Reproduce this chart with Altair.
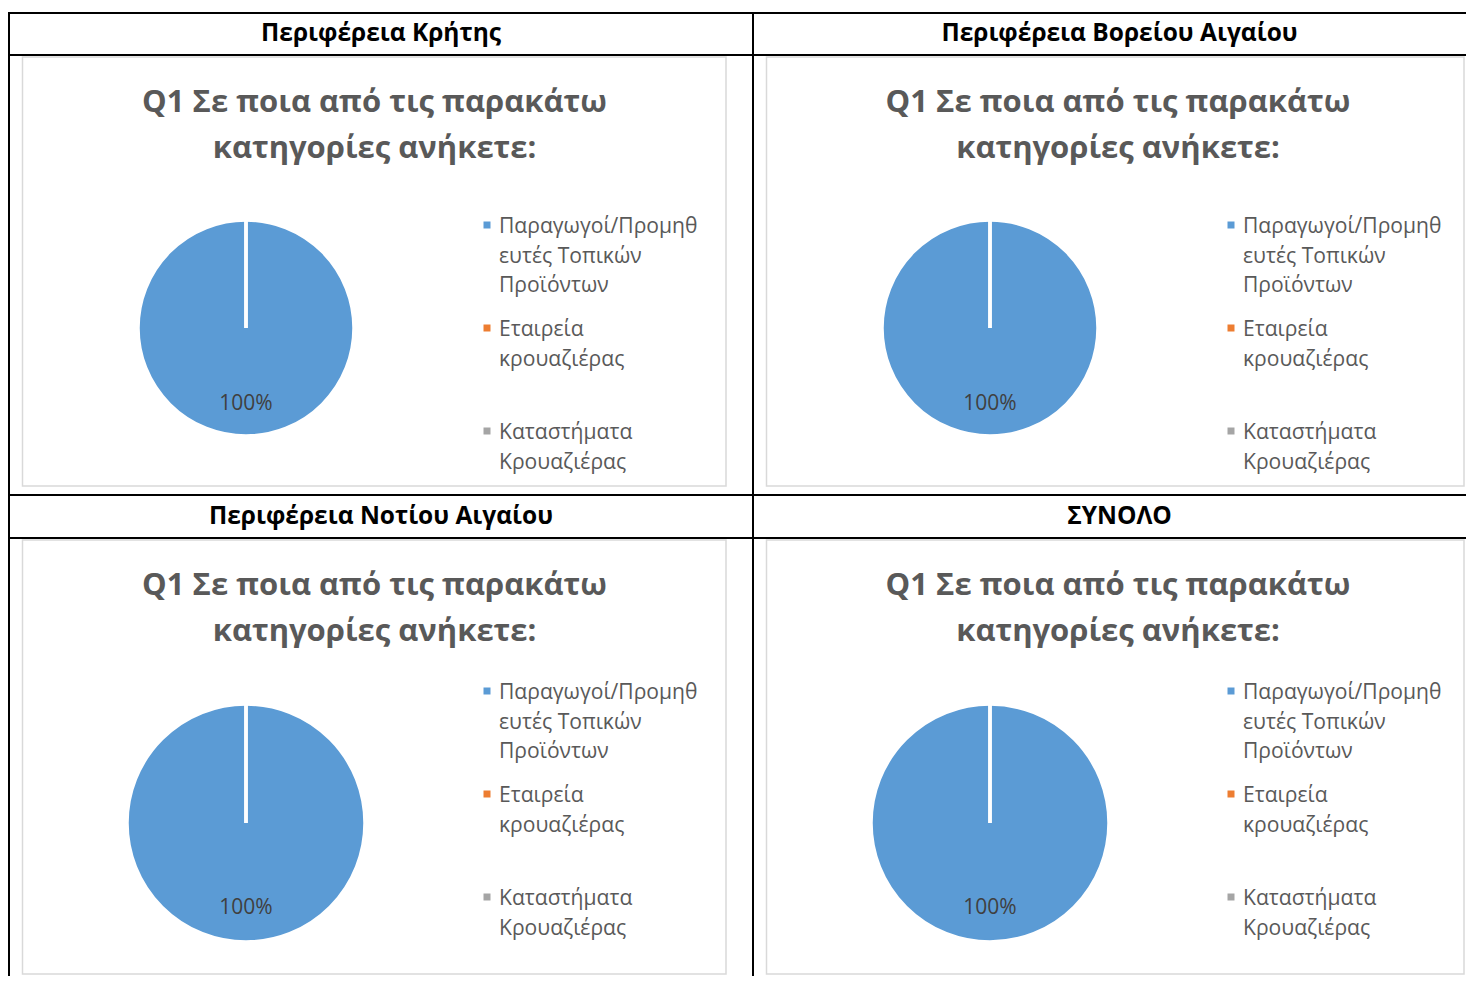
import altair as alt
import pandas as pd

# ---------------- data ----------------
regions = [
    "Περιφέρεια Κρήτης",
    "Περιφέρεια Βορείου Αιγαίου",
    "Περιφέρεια Νοτίου Αιγαίου",
    "ΣΥΝΟΛΟ",
]
categories = [
    "Παραγωγοί/Προμηθευτές Τοπικών Προϊόντων",
    "Εταιρεία κρουαζιέρας",
    "Καταστήματα Κρουαζιέρας",
]
legend_labels = [
    ["Παραγωγοί/Προμηθ", "ευτές Τοπικών", "Προϊόντων"],
    ["Εταιρεία", "κρουαζιέρας"],
    ["Καταστήματα", "Κρουαζιέρας"],
]
colors = ["#5b9bd5", "#ed7d31", "#a5a5a5"]

shares_kriti = [100, 0, 0]
shares_voreio = [100, 0, 0]
shares_notio = [100, 0, 0]
shares_synolo = [100, 0, 0]
region_shares = [shares_kriti, shares_voreio, shares_notio, shares_synolo]

title_lines = ["Q1 Σε ποια από τις παρακάτω", "κατηγορίες ανήκετε:"]

# ---------------- layout ----------------
FONT = "Open Sans"
COL_W = [744, 713]
HEADER_H = [42, 43]
BODY_H = [440, 438]
HEADER_CX = [372, 366.5]
TITLE_CX = [365.5, 365]
FRAME_X2 = [717, 711]
ROW_GEOM = [
    dict(cx=237, cy=273, r=108, lab=76, leg=[170, 376], fy2=431),
    dict(cx=237, cy=285, r=119, lab=85, leg=[153, 359], fy2=436),
]


def view_bg(width, height, hide_right, hide_bottom=False):
    kw = dict(stroke="black", strokeWidth=2, fill="white")
    # rectangle outline order: top, right, bottom, left
    if hide_right and hide_bottom:
        kw["strokeDash"] = [width, height + width, height]
    elif hide_right:
        kw["strokeDash"] = [width, height, width + height]
    elif hide_bottom:
        kw["strokeDash"] = [width + height, width, height]
    return alt.ViewBackground(**kw)


def header(name, col, row):
    w, h = COL_W[col], HEADER_H[row]
    return (
        alt.Chart(pd.DataFrame({"t": [name]}))
        .mark_text(font=FONT, fontSize=24.5, fontWeight="bold", color="black",
                   align="center", baseline="middle")
        .encode(text="t:N", x=alt.value(HEADER_CX[col]), y=alt.value(h / 2))
        .properties(width=w, height=h, view=view_bg(w, h, col == 1))
    )


def body(shares, col, row):
    w, h = COL_W[col], BODY_H[row]
    g = ROW_GEOM[row]
    df = pd.DataFrame({
        "category": categories,
        "value": shares,
        "idx": list(range(len(categories))),
        "legend": ["\n".join(l) for l in legend_labels],
    })
    base = alt.Chart(df)

    frame = (
        alt.Chart(pd.DataFrame({"f": [0]}))
        .mark_rect(filled=False, stroke="#d9d9d9", strokeWidth=1.5)
        .encode(x=alt.value(13.5), x2=alt.value(FRAME_X2[col]), y=alt.value(2), y2=alt.value(g["fy2"]))
    )
    title = (
        alt.Chart(pd.DataFrame({"t": ["\n".join(title_lines)]}))
        .mark_text(font=FONT, fontSize=31, fontWeight="bold", color="#595959",
                   align="center", baseline="top", lineBreak="\n", lineHeight=46)
        .encode(text="t:N", x=alt.value(TITLE_CX[col]), y=alt.value(33))
    )
    color = alt.Color("category:N", scale=alt.Scale(domain=categories, range=colors), legend=None)
    pie = (
        base.mark_arc(radius=g["r"], stroke="white", strokeWidth=3.5)
        .encode(
            theta=alt.Theta("value:Q", stack=True),
            color=color,
            order=alt.Order("idx:Q"),
            x=alt.value(g["cx"]),
            y=alt.value(g["cy"]),
        )
    )
    label = (
        base.transform_filter("datum.value > 0")
        .transform_calculate(lbl="format(datum.value / 100, '.0%')")
        .mark_text(radius=g["lab"], font=FONT, fontSize=21, color="#404040",
                   align="center", baseline="middle")
        .encode(
            theta=alt.Theta("value:Q", stack=True),
            text="lbl:N",
            x=alt.value(g["cx"]),
            y=alt.value(g["cy"]),
        )
    )
    yleg = alt.Y("idx:Q", scale=alt.Scale(domain=[0, 2], range=g["leg"], nice=False, zero=False), axis=None)
    leg_sym = (
        base.mark_point(shape="square", filled=True, size=49, opacity=1)
        .encode(x=alt.value(478), y=yleg, color=color)
    )
    leg_txt = (
        base.mark_text(font=FONT, fontSize=21.1, color="#595959", align="left",
                       baseline="top", lineBreak="\n", lineHeight=29.5, dy=-9)
        .encode(x=alt.value(490), y=yleg, text="legend:N")
    )
    return alt.layer(frame, title, pie, label, leg_sym, leg_txt).properties(
        width=w, height=h, view=view_bg(w, h, col == 1, hide_bottom=(row == 1))
    )


panels = []
for row in range(2):
    for col in range(2):
        i = row * 2 + col
        panels.append(header(regions[i], col, row))
    for col in range(2):
        i = row * 2 + col
        panels.append(body(region_shares[i], col, row))

chart = (
    alt.concat(*panels, columns=2, spacing=0, bounds="flush")
    .properties(padding={"left": 0, "top": 4, "right": 0, "bottom": 0}, background="white")
)

chart.save("out.html", embed_options={"renderer": "svg", "actions": False})
